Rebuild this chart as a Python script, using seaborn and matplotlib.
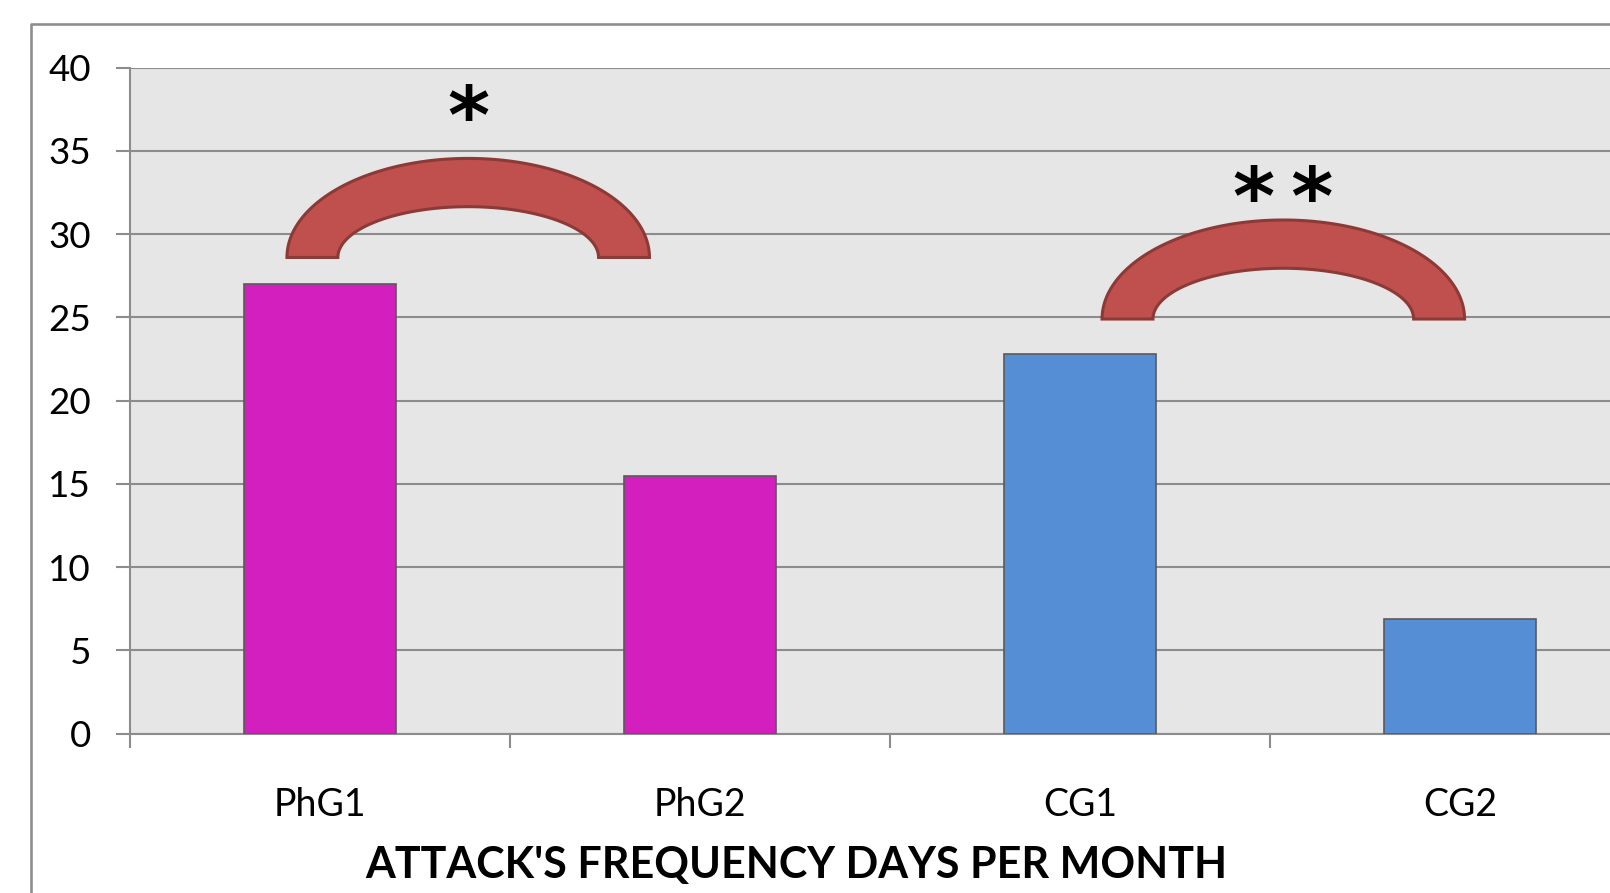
import numpy as np
import pandas as pd
import matplotlib
matplotlib.use("Agg")
import matplotlib.pyplot as plt
from matplotlib.patches import Polygon
from matplotlib.lines import Line2D
import seaborn as sns

# Data
groups = ["PhG1", "PhG2", "CG1", "CG2"]
attack_days = [27.0, 15.5, 22.8, 6.85]
bar_colors = ["#D21FBD", "#D21FBD", "#558ED5", "#558ED5"]
y_ticks = [0, 5, 10, 15, 20, 25, 30, 35, 40]
x_title = "ATTACK'S FREQUENCY DAYS PER MONTH"

# Significance brackets: (centre x, base y, label, label y)
sig_centres = [0.39, 2.535]
sig_bases = [28.6, 24.9]
sig_labels = ["*", "*\u2009*"]
sig_label_y = [36.8, 31.95]

df = pd.DataFrame({"group": groups, "days": attack_days})

sns.set_style("white")
plt.rcParams["font.family"] = ["Lato", "DejaVu Sans"]

W, H = 1610, 893
fig = plt.figure(figsize=(W / 100, H / 100), dpi=100)

# Outer chart frame (rounded box that runs past the right/bottom edges)
frame_col = "#8E8E8E"
fig.add_artist(Line2D([31 / W, 31 / W, 1.01], [-0.01, 1 - 24 / H, 1 - 24 / H],
                      transform=fig.transFigure, color=frame_col, lw=1.9,
                      solid_joinstyle="round"))

ax_left = 130 / W
ax_bottom = (H - 733.5) / H
ax_w = 1520 / W
ax_h = (733.5 - 67.7) / H
ax = fig.add_axes([ax_left, ax_bottom, ax_w, ax_h])
ax.set_facecolor("#E6E6E6")

sns.barplot(data=df, x="group", y="days", hue="group", palette=bar_colors,
            width=0.40, edgecolor="#5A5A5A", linewidth=1.2, legend=False,
            ax=ax, zorder=3, saturation=1)

ax.set_xlim(-0.5, 3.5)
ax.set_ylim(0, 40)
ax.set_yticks(y_ticks)
ax.set_yticklabels([str(t) for t in y_ticks])
grid_col = "#8C8C8C"
ax.yaxis.grid(True, color=grid_col, lw=1.5, zorder=0)
ax.xaxis.grid(False)
ax.set_axisbelow(True)

for s in ["top", "right"]:
    ax.spines[s].set_visible(False)
for s in ["left", "bottom"]:
    ax.spines[s].set_visible(True)
    ax.spines[s].set_color(grid_col)
    ax.spines[s].set_linewidth(1.5)

ax.tick_params(axis="y", which="major", length=10, width=1.5, color=grid_col,
               pad=18, labelsize=26.5, labelcolor="black", left=True)
ax.set_xticks(np.arange(len(groups)))
ax.set_xticklabels(groups)
ax.set_xticks(np.arange(-0.5, len(groups), 1.0), minor=True)
ax.tick_params(axis="x", which="major", length=0, pad=38.5, labelsize=27,
               labelcolor="black")
ax.tick_params(axis="x", which="minor", length=10, width=1.5, color=grid_col,
               bottom=True)
ax.set_xlabel("")
ax.set_ylabel("")

# Block-arc brackets
outer_hw, outer_h = 0.477, 5.95
inner_hw, inner_h = 0.343, 3.05
t = np.linspace(np.pi, 0, 120)
for cx, by, lab, ly in zip(sig_centres, sig_bases, sig_labels, sig_label_y):
    ox = cx + outer_hw * np.cos(t)
    oy = by + outer_h * np.sin(t)
    ix = cx + inner_hw * np.cos(t[::-1])
    iy = by + inner_h * np.sin(t[::-1])
    pts = np.column_stack([np.concatenate([ox, ix]), np.concatenate([oy, iy])])
    ax.add_patch(Polygon(pts, closed=True, facecolor="#C0504D",
                         edgecolor="#8C3A37", lw=2.2, zorder=5,
                         joinstyle="miter"))
    ax.text(cx, ly, lab, ha="center", va="center", fontsize=58,
            fontweight="bold", color="black", zorder=6,
            family=["DejaVu Sans"])

fig.text(796 / W, 1 - 865 / H, x_title, ha="center", va="center",
         fontsize=31, fontweight="bold", color="black")

fig.savefig("out.png", dpi=100)
